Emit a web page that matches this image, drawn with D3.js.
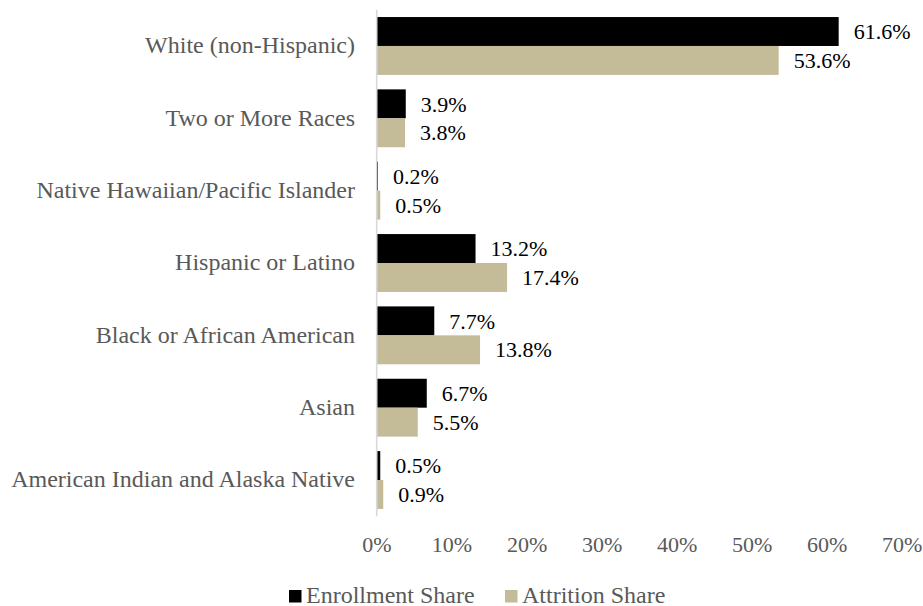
<!DOCTYPE html>
<html>
<head>
<meta charset="utf-8">
<script src="https://cdn.jsdelivr.net/npm/d3@7"></script>
<style>
  html, body { margin: 0; padding: 0; background: #ffffff; }
  svg { display: block; }
</style>
</head>
<body>
<svg id="chart" width="923" height="606"></svg>
<script>
// Race/ethnicity categories, top to bottom
const categories = [
  "White (non-Hispanic)",
  "Two or More Races",
  "Native Hawaiian/Pacific Islander",
  "Hispanic or Latino",
  "Black or African American",
  "Asian",
  "American Indian and Alaska Native"
];
const seriesNames = ["Enrollment Share", "Attrition Share"];
const enrollmentShare = [61.6, 3.9, 0.2, 13.2, 7.7, 6.7, 0.5];
const attritionShare = [53.6, 3.8, 0.5, 17.4, 13.8, 5.5, 0.9];
const xTicks = [0, 10, 20, 30, 40, 50, 60, 70];
const seriesColors = ["#000000", "#c4bc98"];

const FONT = "'Liberation Serif', 'Times New Roman', serif";

const rows = categories.map((c, i) => ({
  category: c,
  values: [
    { series: seriesNames[0], value: enrollmentShare[i] },
    { series: seriesNames[1], value: attritionShare[i] }
  ]
}));

const svg = d3.select("#chart");

const x = d3.scaleLinear().domain([0, 70]).range([376.5, 901.7]);
const y = d3.scaleBand()
  .domain(categories)
  .range([9.8, 516.2])
  .paddingInner(0.2)
  .paddingOuter(0.1);
const ySub = d3.scaleBand()
  .domain(seriesNames)
  .range([0, y.bandwidth()]);
const color = d3.scaleOrdinal().domain(seriesNames).range(seriesColors);

// bars
const groups = svg.append("g")
  .selectAll("g")
  .data(rows)
  .join("g")
  .attr("transform", d => `translate(0,${y(d.category)})`);

groups.selectAll("rect")
  .data(d => d.values)
  .join("rect")
  .attr("x", x(0))
  .attr("y", d => ySub(d.series))
  .attr("width", d => x(d.value) - x(0))
  .attr("height", ySub.bandwidth())
  .attr("fill", d => color(d.series));

// vertical baseline at 0%, drawn over the bar roots
svg.append("line")
  .attr("x1", x(0) + 0.2).attr("x2", x(0) + 0.2)
  .attr("y1", 9.8).attr("y2", 516.2)
  .attr("stroke", "#d9d9d9")
  .attr("stroke-width", 1.6);

// value labels
groups.selectAll("text")
  .data(d => d.values)
  .join("text")
  .attr("x", d => x(d.value) + 15)
  .attr("y", d => ySub(d.series) + ySub.bandwidth() / 2)
  .attr("dy", "0.35em")
  .style("font-family", FONT)
  .style("font-size", "22px")
  .style("fill", "#000000")
  .text(d => d.value.toFixed(1) + "%");

// category axis
const yAxis = svg.append("g")
  .attr("transform", `translate(${x(0)},0)`)
  .call(d3.axisLeft(y).tickSize(0).tickPadding(21.5));
yAxis.select(".domain").remove();
yAxis.selectAll("text")
  .style("font-family", FONT)
  .style("font-size", "24px")
  .style("fill", "#595959")
  .attr("dy", "0.3em");

// percentage axis
const xAxis = svg.append("g")
  .attr("transform", "translate(0,536.5)")
  .call(d3.axisBottom(x).tickValues(xTicks).tickSize(0).tickPadding(0)
    .tickFormat(d => d + "%"));
xAxis.select(".domain").remove();
xAxis.selectAll("text")
  .style("font-family", FONT)
  .style("font-size", "22px")
  .style("fill", "#595959");

// legend
const legendX = d3.scaleOrdinal().domain(seriesNames).range([289, 505]);
const legend = svg.append("g")
  .selectAll("g")
  .data(seriesNames)
  .join("g")
  .attr("transform", d => `translate(${legendX(d)},590)`);
legend.append("rect")
  .attr("width", 12.5)
  .attr("height", 12.5)
  .attr("fill", d => color(d));
legend.append("text")
  .attr("x", 17)
  .attr("y", 12.5)
  .style("font-family", FONT)
  .style("font-size", "24px")
  .style("fill", "#595959")
  .text(d => d);
</script>
</body>
</html>
